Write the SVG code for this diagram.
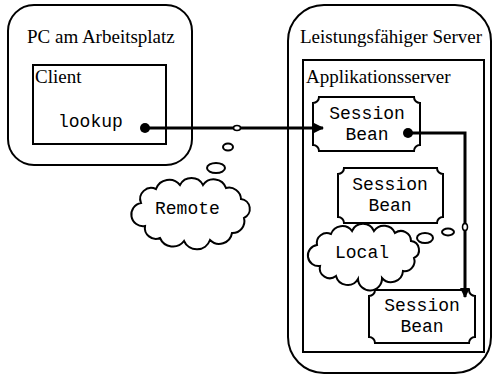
<svg xmlns="http://www.w3.org/2000/svg" width="495" height="378" viewBox="0 0 495 378">
<defs>
<style>
.box{fill:none;stroke:#000;stroke-width:2}
.ser{font-family:"Liberation Serif",serif;font-size:19px;fill:#000}
.mono{font-family:"Liberation Mono",monospace;font-size:18px;fill:#000}
.conn{fill:none;stroke:#000;stroke-width:3}
.bub{fill:#fff;stroke:#000;stroke-width:2}
</style>
<marker id="arr" markerWidth="10" markerHeight="10" refX="9" refY="5" orient="auto" markerUnits="userSpaceOnUse" viewBox="0 0 10 10">
<path d="M0,0 L10,5 L0,10 Z" fill="#000"/>
</marker>
</defs>
<g id="pc">
<rect class="box" x="8" y="5" width="184" height="160" rx="26"/>
<text class="ser" x="27" y="43">PC am Arbeitsplatz</text>
</g>
<g id="client">
<rect class="box" x="33" y="65" width="133" height="79"/>
<text class="ser" x="35" y="83">Client</text>
<text class="mono" x="58" y="127">lookup</text>
</g>
<g id="server">
<rect class="box" x="288" y="5" width="203" height="368" rx="36"/>
<text class="ser" x="300" y="43">Leistungsfähiger Server</text>
</g>
<g id="appserver">
<rect class="box" x="303" y="60" width="181" height="292"/>
<text class="ser" x="306" y="83">Applikationsserver</text>
</g>
<g id="bean1">
<path class="box" d="M319,97 H414 A6,6 0 0 0 420,103 V145 A6,6 0 0 0 414,151 H319 A6,6 0 0 0 313,145 V103 A6,6 0 0 0 319,97 Z"/>
<text class="mono" x="367" y="119" text-anchor="middle">Session</text>
<text class="mono" x="367" y="140" text-anchor="middle">Bean</text>
</g>
<g id="bean2">
<path class="box" d="M344,168 H437 A6,6 0 0 0 443,174 V217 A6,6 0 0 0 437,223 H344 A6,6 0 0 0 338,217 V174 A6,6 0 0 0 344,168 Z"/>
<text class="mono" x="390" y="190" text-anchor="middle">Session</text>
<text class="mono" x="390" y="211" text-anchor="middle">Bean</text>
</g>
<g id="bean3">
<path class="box" d="M375,290 H469 A6,6 0 0 0 475,296 V337 A6,6 0 0 0 469,343 H375 A6,6 0 0 0 369,337 V296 A6,6 0 0 0 375,290 Z"/>
<text class="mono" x="422" y="311" text-anchor="middle">Session</text>
<text class="mono" x="422" y="332" text-anchor="middle">Bean</text>
</g>
<g id="remote">
<ellipse class="bub" cx="228" cy="147" rx="5" ry="3.5"/>
<ellipse class="bub" cx="216" cy="168" rx="9" ry="5"/>
<path class="bub" d="M141,203 A11,11 0 0 1 156,189 A14,14 0 0 1 180,185 A13,13 0 0 1 203,185 A13,13 0 0 1 226,188 A12,12 0 0 1 241,199 A10,10 0 0 1 244,218 A12,12 0 0 1 232,233 A13,13 0 0 1 210,240 A14,14 0 0 1 184,241 A14,14 0 0 1 160,238 A11,11 0 0 1 145,226 A10,10 0 0 1 141,203 Z"/>
<text class="mono" x="155" y="214">Remote</text>
</g>
<g id="local">
<ellipse class="bub" cx="425" cy="238" rx="8" ry="5"/>
<ellipse class="bub" cx="448" cy="232" rx="6" ry="3.5"/>
<path class="bub" d="M317,245 A10,10 0 0 1 331,234 A12,12 0 0 1 352,231 A12,12 0 0 1 374,231 A12,12 0 0 1 395,233 A10,10 0 0 1 411,241 A9,9 0 0 1 414,258 A10,10 0 0 1 403,271 A12,12 0 0 1 382,278 A12,12 0 0 1 358,279 A12,12 0 0 1 336,276 A10,10 0 0 1 320,266 A9,9 0 0 1 317,245 Z"/>
<text class="mono" x="335" y="258">Local</text>
</g>
<g id="connectors">
<circle cx="145" cy="128" r="5" fill="#000"/>
<path class="conn" d="M145,128 H323" marker-end="url(#arr)"/>
<ellipse cx="237" cy="128" rx="3.5" ry="2.5" fill="#fff" stroke="#000" stroke-width="1.5"/>
<circle cx="408" cy="133" r="5" fill="#000"/>
<path class="conn" d="M408,133 H465 V297" marker-end="url(#arr)"/>
<ellipse cx="465" cy="227" rx="2.5" ry="3.5" fill="#fff" stroke="#000" stroke-width="1.5"/>
</g>
</svg>
